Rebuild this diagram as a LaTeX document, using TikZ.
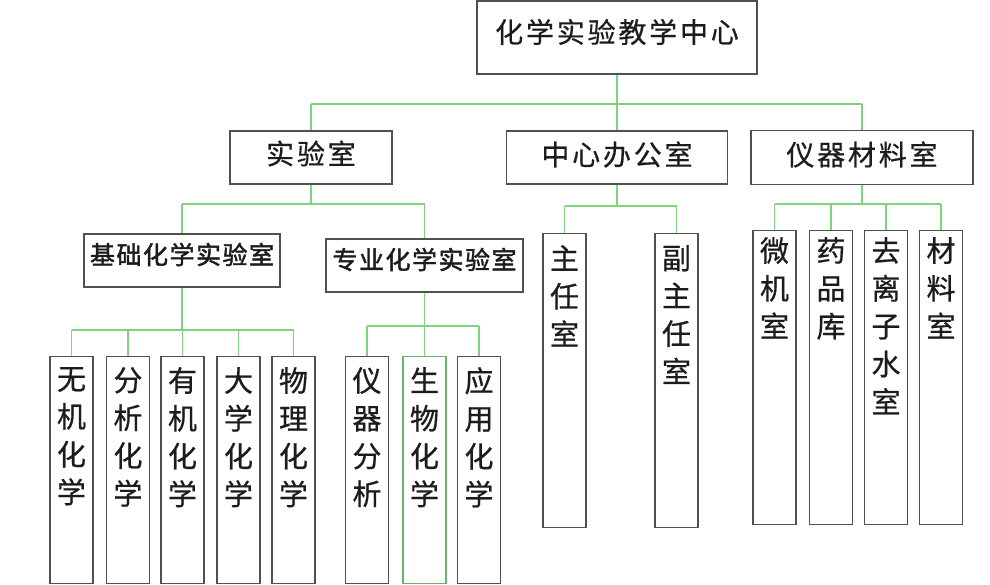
\documentclass[tikz,border=0pt]{standalone}
\usepackage{fontspec}
\setmainfont{Noto Sans CJK SC}
\newfontfamily\cjkplain[FakeBold=0.6]{Noto Sans CJK SC}
\newfontfamily\cjkspaced[LetterSpace=10,FakeBold=0.5]{Noto Sans CJK SC}
\newfontfamily\cjkbold[LetterSpace=6,FakeBold=1.8]{Noto Sans CJK SC}
\definecolor{linkgreen}{RGB}{125,212,125}
\definecolor{boxgray}{RGB}{80,80,80}
\definecolor{txt}{RGB}{28,28,28}
\begin{document}
\begin{tikzpicture}[x=1pt,y=-1pt,
  box/.style={draw=boxgray, line width=1.2pt, fill=white, inner sep=0pt},
  greenbox/.style={box, draw=linkgreen!85!black},
  link/.style={draw=linkgreen, line width=1.3pt},
  toplbl/.style={inner sep=0pt, text=txt, font=\fontsize{28}{30}\cjkspaced},
  midlbl/.style={inner sep=0pt, text=txt, font=\fontsize{25}{28}\cjkbold},
  vlbl/.style={inner sep=0pt, text=txt, align=center, anchor=north, font=\fontsize{29}{37.8}\cjkplain},
  tall/.style={box, minimum width=43pt, minimum height=227pt},
  tallr/.style={box, minimum width=43pt, minimum height=294pt},
]
\fill[white] (0,0) rectangle (990,585);
\useasboundingbox (0,0) rectangle (990,585);

% level 0
\node[box, minimum width=280pt, minimum height=73pt] (top) at (617,37.5) {};
\node[toplbl] (top-t) at ([yshift=5.5pt]top.center) {化学实验教学中心};

% level 1
\node[box, minimum width=162pt, minimum height=53pt] (lab) at (311,157.5) {};
\node[toplbl] (lab-t) at ([yshift=4pt]lab.center) {实验室};
\node[box, minimum width=221pt, minimum height=53pt] (office) at (617,157.5) {};
\node[toplbl] (office-t) at ([yshift=3pt]office.center) {中心办公室};
\node[box, minimum width=222pt, minimum height=54pt] (equip) at (862,157.5) {};
\node[toplbl] (equip-t) at ([yshift=3pt]equip.center) {仪器材料室};

% level 2
\node[box, minimum width=196pt, minimum height=53pt] (basic) at (182,260.5) {};
\node[midlbl] (basic-t) at ([yshift=6pt]basic.center) {基础化学实验室};
\node[box, minimum width=197pt, minimum height=53pt] (prof) at (424.5,265.5) {};
\node[midlbl] (prof-t) at ([yshift=6pt]prof.center) {专业化学实验室};

% basic children
\node[tall, anchor=north] (b1) at (71.5,356) {};
\node[vlbl] (b1-t) at ([yshift=-11pt]b1.north) {无\\机\\化\\学};
\node[tall, anchor=north] (b2) at (128,356) {};
\node[vlbl] (b2-t) at ([yshift=-11pt]b2.north) {分\\析\\化\\学};
\node[tall, anchor=north] (b3) at (182.5,356) {};
\node[vlbl] (b3-t) at ([yshift=-11pt]b3.north) {有\\机\\化\\学};
\node[tall, anchor=north] (b4) at (238.5,356) {};
\node[vlbl] (b4-t) at ([yshift=-11pt]b4.north) {大\\学\\化\\学};
\node[tall, anchor=north] (b5) at (293.5,356) {};
\node[vlbl] (b5-t) at ([yshift=-11pt]b5.north) {物\\理\\化\\学};

% professional children
\node[tall, anchor=north] (p1) at (367,356) {};
\node[vlbl] (p1-t) at ([yshift=-11pt]p1.north) {仪\\器\\分\\析};
\node[tall, greenbox, anchor=north] (p2) at (424.5,356) {};
\node[vlbl] (p2-t) at ([yshift=-11pt]p2.north) {生\\物\\化\\学};
\node[tall, anchor=north] (p3) at (479,356) {};
\node[vlbl] (p3-t) at ([yshift=-11pt]p3.north) {应\\用\\化\\学};

% office children
\node[tallr, anchor=north] (o1) at (564.5,233) {};
\node[vlbl] (o1-t) at ([yshift=-12pt]o1.north) {主\\任\\室};
\node[tallr, anchor=north] (o2) at (676.5,233) {};
\node[vlbl] (o2-t) at ([yshift=-12pt]o2.north) {副\\主\\任\\室};

% equipment children
\node[tallr, anchor=north] (e1) at (774.5,230) {};
\node[vlbl] (e1-t) at ([yshift=-7pt]e1.north) {微\\机\\室};
\node[tallr, anchor=north] (e2) at (831,230) {};
\node[vlbl] (e2-t) at ([yshift=-7pt]e2.north) {药\\品\\库};
\node[tallr, anchor=north] (e3) at (886,230) {};
\node[vlbl] (e3-t) at ([yshift=-7pt]e3.north) {去\\离\\子\\水\\室};
\node[tallr, anchor=north] (e4) at (941,230) {};
\node[vlbl] (e4-t) at ([yshift=-7pt]e4.north) {材\\料\\室};

% buses
\coordinate (bus0) at (0,104);
\coordinate (bus1) at (0,204);
\coordinate (bus2) at (0,330);
\coordinate (bus3) at (0,326);
\coordinate (bus4) at (0,206);
\coordinate (bus5) at (0,204);

% connectors
\draw[link] (top.south) -- (top.south |- bus0);
\draw[link] (lab.north |- bus0) -- (equip.north |- bus0);
\foreach \n in {lab,office,equip} \draw[link] (\n.north |- bus0) -- (\n.north);

\draw[link] (lab.south) -- (lab.south |- bus1);
\draw[link] (basic.north |- bus1) -- (prof.north |- bus1);
\foreach \n in {basic,prof} \draw[link] (\n.north |- bus1) -- (\n.north);

\draw[link] (basic.south) -- (basic.south |- bus2);
\draw[link] (b1.north |- bus2) -- (b5.north |- bus2);
\foreach \n in {b1,b2,b3,b4,b5} \draw[link] (\n.north |- bus2) -- (\n.north);

\draw[link] (prof.south) -- (prof.south |- bus3);
\draw[link] (p1.north |- bus3) -- (p3.north |- bus3);
\foreach \n in {p1,p2,p3} \draw[link] (\n.north |- bus3) -- (\n.north);

\draw[link] (office.south) -- (office.south |- bus4);
\draw[link] (o1.north |- bus4) -- (o2.north |- bus4);
\foreach \n in {o1,o2} \draw[link] (\n.north |- bus4) -- (\n.north);

\draw[link] (equip.south) -- (equip.south |- bus5);
\draw[link] (e1.north |- bus5) -- (e4.north |- bus5);
\foreach \n in {e1,e2,e3,e4} \draw[link] (\n.north |- bus5) -- (\n.north);
\end{tikzpicture}
\end{document}
